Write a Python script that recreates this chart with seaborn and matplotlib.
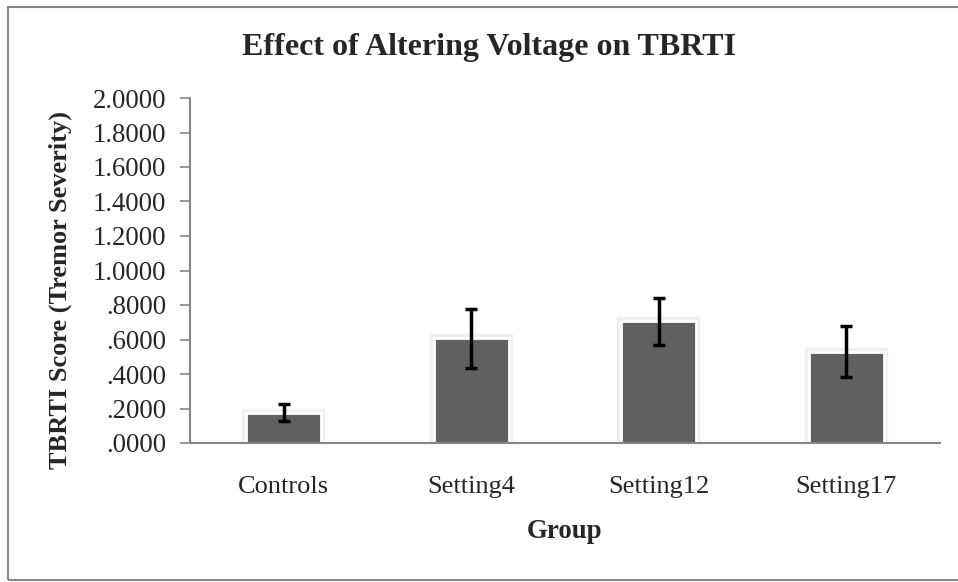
import numpy as np
import pandas as pd
import matplotlib
matplotlib.use("Agg")
import matplotlib.pyplot as plt
import matplotlib.patheffects as pe
from matplotlib.patches import Rectangle
from matplotlib.ticker import FuncFormatter, FixedLocator
import seaborn as sns

# data
groups = ["Controls", "Setting4", "Setting12", "Setting17"]
means = [0.175, 0.607, 0.705, 0.530]
errors = [0.050, 0.170, 0.135, 0.150]
y_ticks = np.arange(0, 2.01, 0.2)

sns.set_style("white")
plt.rcParams["font.family"] = ["Liberation Serif", "DejaVu Serif"]

df = pd.DataFrame({"Group": groups, "Score": means})

W, H = 958, 582
fig = plt.figure(figsize=(W / 100, H / 100), dpi=100)
ax = fig.add_axes([190 / W, 1 - 443 / H, 750 / W, 345 / H])

sns.barplot(data=df, x="Group", y="Score", color="#606060", width=0.4,
            saturation=1, edgecolor="white", linewidth=2, ax=ax)
# soft halo round each bar, like the Excel shadow
for bar in ax.patches:
    bar.set_path_effects([pe.Stroke(linewidth=6, foreground="#f0f0f0"), pe.Normal()])

ax.errorbar(x=np.arange(len(groups)), y=means, yerr=errors, fmt="none",
            ecolor="black", elinewidth=2.5, capsize=4.5, capthick=2.5, zorder=5)

# axes styling, Excel-like
ax.set_xlim(-0.5, len(groups) - 0.5)
ax.set_ylim(0, 2.0)
ax.set_yticks(y_ticks)
ax.yaxis.set_major_formatter(FuncFormatter(
    lambda v, p: (f"{v:.4f}"[1:] if f"{v:.4f}".startswith("0") else f"{v:.4f}")))
ax.xaxis.set_minor_locator(FixedLocator(np.arange(-0.5, len(groups), 1.0)))
ax.tick_params(axis="x", which="major", length=0, labelsize=19, pad=24)
ax.tick_params(axis="x", which="minor", length=7, width=1.2, color="#868686", direction="out")
ax.tick_params(axis="y", length=7, width=1.2, color="#868686", direction="out",
               labelsize=19.3, pad=10, left=True)
for side in ["top", "right"]:
    ax.spines[side].set_visible(False)
for side in ["left", "bottom"]:
    ax.spines[side].set_color("#868686")
    ax.spines[side].set_linewidth(1.5)

ax.set_xlabel("")
ax.set_ylabel("")
fig.text(565 / W, 1 - 532 / H, "Group", ha="center", va="center",
         fontsize=19.4, fontweight="bold")
fig.text(60 / W, 1 - 290 / H, "TBRTI Score (Tremor Severity)", ha="center", va="center",
         rotation=90, fontsize=19, fontweight="bold")
fig.text(489 / W, 1 - 47 / H, "Effect of Altering Voltage on TBRTI", ha="center", va="center",
         fontsize=23, fontweight="bold")

# chart border (right edge runs off the picture)
fig.patches.append(Rectangle((8 / W, 2 / H), 1.05, 1 - 8.5 / H, transform=fig.transFigure,
                             fill=False, edgecolor="#888888", linewidth=1.5))

fig.savefig("out.png", dpi=100)
